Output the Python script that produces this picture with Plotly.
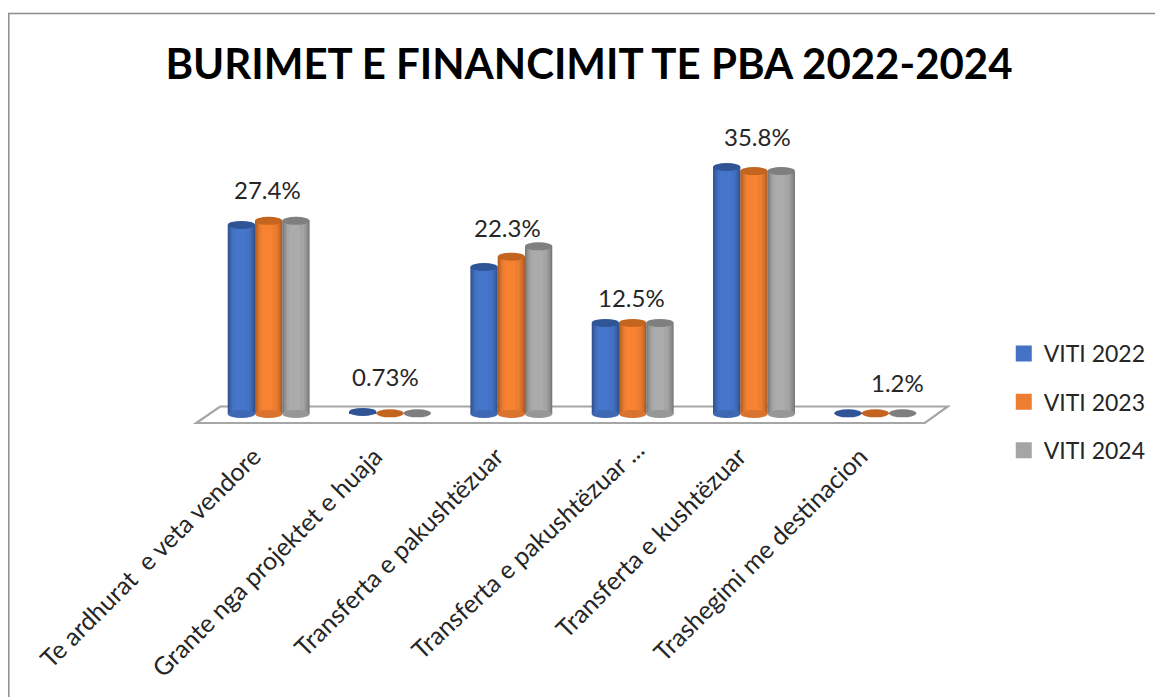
import plotly.graph_objects as go

categories = ["Te ardhurat\u00a0 e veta vendore", "Grante nga projektet e huaja", "Transferta e pakushtëzuar",
              "Transferta e pakushtëzuar ...", "Transferta e kushtëzuar", "Trashegimi me destinacion"]
viti_2022 = [27.4, 0.3, 21.3, 13.2, 35.8, 0.1]
viti_2023 = [28.0, 0.1, 22.8, 13.2, 35.2, 0.1]
viti_2024 = [28.0, 0.1, 24.3, 13.2, 35.2, 0.1]
label_texts = ["27.4%", "0.73%", "22.3%", "12.5%", "35.8%", "1.2%"]
series_names = ["VITI 2022", "VITI 2023", "VITI 2024"]

W, H = 1155, 697
L, R, T, B = 207.8, 936.2, 130, 424
PPU = 6.9
Y0 = 414
BAR_W = 27.3 / 121.4
COLORS = [(68, 114, 196), (237, 125, 49), (165, 165, 165)]
CAPS = ["#2f5597", "#c4651f", "#7f7f7f"]
STRIPS = [(0.00, 1.00, 0.70), (0.02, 0.98, 0.76), (0.05, 0.95, 0.82), (0.08, 0.91, 0.88),
          (0.12, 0.86, 0.94), (0.17, 0.80, 1.00), (0.25, 0.65, 1.04)]
LABEL_DX = [-1.5, -4.5, -3.5, -1.5, 3.5, 22.5]
LABEL_DY = [15, 20, 13, 9, 18.6, 14]
LONG_LABEL = 3  # this tick label sits further along its slant in the reference


def px(x):
    return (x - L) / (R - L)


def py(y):
    return (B - y) / (B - T)


def shade(c, f):
    return "rgb(%d,%d,%d)" % tuple(min(255, int(v * f)) for v in c)


fig = go.Figure()
shapes = []
all_series = [viti_2022, viti_2023, viti_2024]
cap_h = 4 / PPU
for s, (vals, name, col, cap) in enumerate(zip(all_series, series_names, COLORS, CAPS)):
    left = (s - 1.5) * BAR_W
    for a, b, f in STRIPS:
        fig.add_trace(go.Bar(x=categories, y=vals, width=BAR_W * (b - a), offset=left + BAR_W * a,
                             marker=dict(color=shade(col, f), line=dict(width=0)),
                             legendgroup=name, showlegend=False, hoverinfo="skip"))
    fig.add_trace(go.Scatter(x=[None], y=[None], mode="markers", name=name, legendgroup=name,
                             marker=dict(symbol="square", size=16, color=shade(col, 1))))
    for i, v in enumerate(vals):
        if v > 1:
            shapes.append(dict(type="circle", xref="x", yref="y", layer="above",
                               x0=i + left, x1=i + left + BAR_W, y0=-cap_h, y1=cap_h,
                               fillcolor=shade(col, 0.92), line=dict(width=0)))
        shapes.append(dict(type="circle", xref="x", yref="y", layer="above",
                           x0=i + left, x1=i + left + BAR_W, y0=v - cap_h, y1=v + cap_h,
                           fillcolor=cap, line=dict(width=0)))

frame = dict(type="path", xref="paper", yref="paper", layer="below",
             path="M%f,%f L%f,%f L%f,%f" % (px(8.5), py(H + 5), px(8.5), py(13.5), px(W + 5), py(13.5)),
             line=dict(color="#8c8c8c", width=1.5))
floor = dict(type="path", xref="paper", yref="paper", layer="below",
             path="M%f,%f L%f,%f L%f,%f L%f,%f Z" % (px(196), py(423), px(220), py(406.5), px(948), py(406.5), px(925), py(423)),
             line=dict(color="#a6a6a6", width=2.2), fillcolor="white")

annotations = []
for i, t in enumerate(label_texts):
    annotations.append(dict(x=i, y=viti_2023[i], xref="x", yref="y", text=t, showarrow=False,
                            yanchor="bottom", xanchor="center", xshift=LABEL_DX[i], yshift=LABEL_DY[i],
                            font=dict(family="Lato", size=24, color="#262626")))
annotations.append(dict(x=LONG_LABEL, y=py(549), xref="x", yref="paper", text=categories[LONG_LABEL], showarrow=False,
                        xanchor="center", yanchor="middle", xshift=-105.5, textangle=-43,
                        font=dict(family="Lato", size=25, color="#262626")))
tick_text = ["" if i == LONG_LABEL else c for i, c in enumerate(categories)]

fig.update_layout(
    width=W, height=H, margin=dict(l=L, r=W - R, t=T, b=H - B, pad=0, autoexpand=False),
    paper_bgcolor="white", plot_bgcolor="rgba(0,0,0,0)", barmode="overlay",
    title=dict(text="<b>BURIMET E FINANCIMIT TE PBA 2022-2024</b>", x=589 / W, xanchor="center",
               y=1 - 64 / H, yanchor="middle", xref="container", yref="container",
               font=dict(family="Lato", size=42, color="#000000")),
    xaxis=dict(type="category", range=[-0.5, 5.5], showgrid=False, zeroline=False, showline=False, ticks="",
               tickmode="array", tickvals=categories, ticktext=tick_text,
               tickangle=-45, ticklabelstandoff=12, ticklabelshift=-15,
               tickfont=dict(family="Lato", size=25, color="#262626")),
    yaxis=dict(range=[-(B - Y0) / PPU, (Y0 - T) / PPU], visible=False),
    legend=dict(x=px(1004), xanchor="left", y=py(332), yanchor="top", bgcolor="rgba(0,0,0,0)",
                tracegroupgap=15.5, font=dict(family="Lato", size=23, color="#262626")),
    shapes=[frame, floor] + shapes, annotations=annotations,
)
fig.write_html("out.html", config=dict(displayModeBar=False),
               post_script="document.body.style.margin='0';document.body.style.overflow='hidden';")
